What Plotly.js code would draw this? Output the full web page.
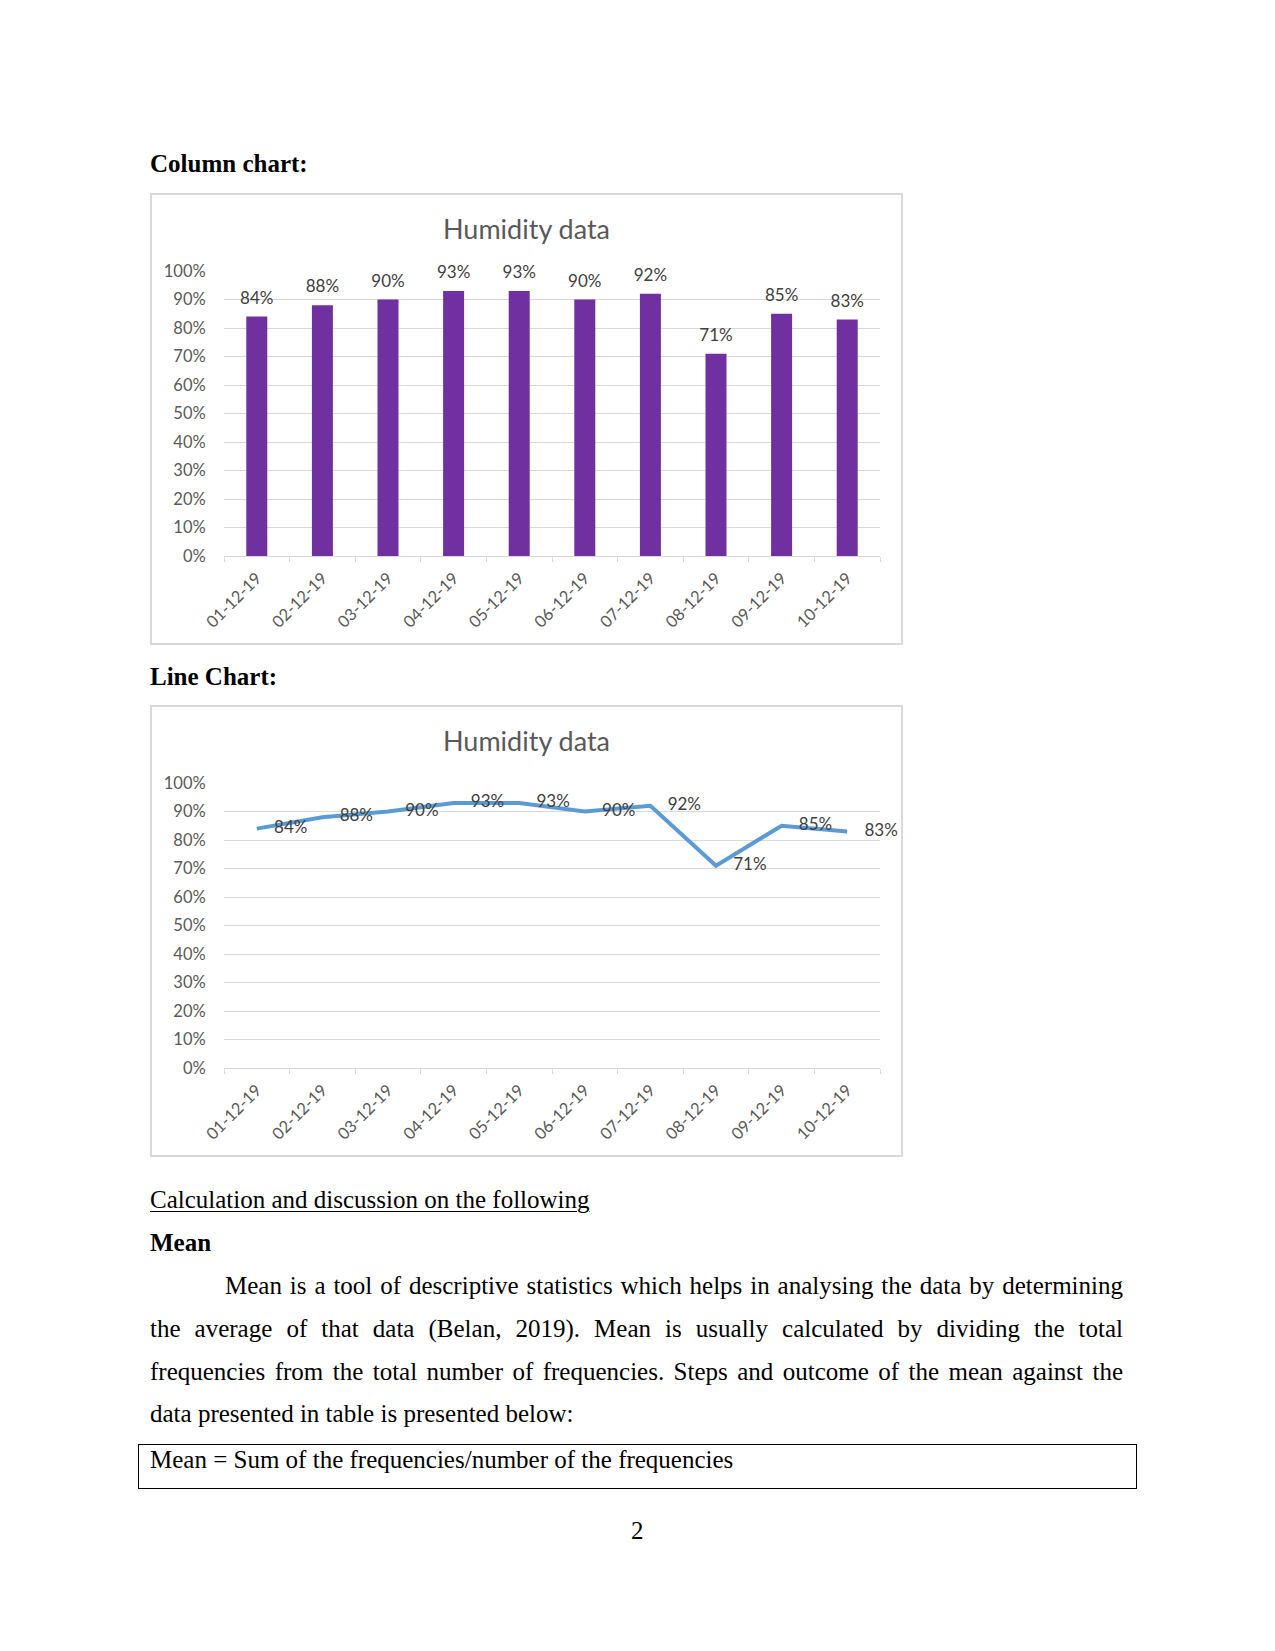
<!DOCTYPE html>
<html>
<head>
<meta charset="utf-8">
<script src="https://cdn.plot.ly/plotly-3.0.1.min.js"></script>
<style>
  body { margin: 0; background: #fff; width: 1275px; height: 1651px; position: relative; font-family: "Liberation Serif", "Times New Roman", serif; font-size: 25px; color: #000; }
  .t { position: absolute; left: 150px; line-height: 25px; white-space: nowrap; }
  .b { font-weight: bold; }
  .u { text-decoration: underline; text-underline-offset: 3px; text-decoration-thickness: 1px; }
  .jl { position: absolute; left: 150px; width: 973px; line-height: 25px; text-align: justify; text-align-last: justify; white-space: nowrap; }
  .box { position: absolute; border: 2px solid #d9d9d9; box-sizing: border-box; width: 753px; height: 452px; left: 150px; }
  .box > div { position: absolute; left: 0; top: 0; }
  .formula { position: absolute; left: 138px; top: 1444px; width: 999px; height: 45px; border: 1.5px solid #000; box-sizing: border-box; }
</style>
</head>
<body>
<div class="t b" style="top:151px">Column chart:</div>
<div class="box" style="top:193px"><div id="columnChart"></div></div>

<div class="t b" style="top:664px">Line Chart:</div>
<div class="box" style="top:705px"><div id="lineChart"></div></div>

<div class="t u" style="top:1187px">Calculation and discussion on the following</div>
<div class="t b" style="top:1230px">Mean</div>
<div class="jl" style="top:1273px; left:225px; width:898px">Mean is a tool of descriptive statistics which helps in analysing the data by determining</div>
<div class="jl" style="top:1316px">the average of that data (Belan, 2019). Mean is usually calculated by dividing the total</div>
<div class="jl" style="top:1359px">frequencies from the total number of frequencies. Steps and outcome of the mean against the</div>
<div class="t" style="top:1401px">data presented in table is presented below:</div>
<div class="formula"></div>
<div class="t" style="top:1447px">Mean = Sum of the frequencies/number of the frequencies</div>
<div class="t" style="top:1518px; left:631px">2</div>

<script>
// humidity readings, December 2019
const dates = ['01-12-19', '02-12-19', '03-12-19', '04-12-19', '05-12-19',
               '06-12-19', '07-12-19', '08-12-19', '09-12-19', '10-12-19'];
const humidity = [0.84, 0.88, 0.90, 0.93, 0.93, 0.90, 0.92, 0.71, 0.85, 0.83];
const chartTitle = 'Humidity data';

const font = 'Lato, "Open Sans", sans-serif';
const grey = '#595959';
const labelFont = { family: font, size: 17, color: '#404040' };

function baseLayout() {
    return {
        width: 749,
        height: 448,
        margin: { l: 72, r: 21, t: 76, b: 87 },
        paper_bgcolor: '#fff',
        plot_bgcolor: '#fff',
        showlegend: false,
        font: { family: font, color: grey, size: 16.5 },
        title: {
            text: chartTitle,
            font: { family: font, size: 27, color: grey },
            x: 0.5, xanchor: 'center',
            yref: 'container', y: 1 - 35 / 448, yanchor: 'middle'
        },
        xaxis: {
            type: 'category',
            range: [-0.5, dates.length - 0.5],
            tickangle: -45,
            showgrid: false,
            showline: true,
            linecolor: '#d9d9d9',
            linewidth: 1,
            ticks: 'outside',
            tickson: 'boundaries',
            ticklen: 5,
            tickcolor: '#d9d9d9',
            ticklabelstandoff: 5,
            tickfont: { family: font, size: 16.5, color: grey }
        },
        yaxis: {
            range: [0, 1],
            dtick: 0.1,
            tickformat: '.0%',
            showgrid: true,
            gridcolor: '#d9d9d9',
            gridwidth: 1,
            zeroline: false,
            showline: false,
            ticks: 'outside',
            ticklen: 14,
            tickcolor: 'rgba(0,0,0,0)',
            tickfont: { family: font, size: 16.5, color: grey }
        }
    };
}

const config = { displayModeBar: false, staticPlot: true };

// column chart: bars plus value labels above them
Plotly.newPlot('columnChart', [{
    type: 'bar',
    x: dates,
    y: humidity,
    marker: { color: '#7030A0' },
    hoverinfo: 'skip'
}, {
    type: 'scatter',
    mode: 'markers+text',
    x: dates,
    y: humidity,
    marker: { size: 12, opacity: 0 },
    texttemplate: '%{y:.0%}',
    textposition: 'top center',
    cliponaxis: false,
    textfont: labelFont
}], Object.assign(baseLayout(), { bargap: 0.68 }), config);

// line chart
Plotly.newPlot('lineChart', [{
    type: 'scatter',
    mode: 'lines+markers+text',
    x: dates,
    y: humidity,
    line: { color: '#5B9BD5', width: 4 },
    marker: { size: 26, opacity: 0, color: '#5B9BD5' },
    texttemplate: '%{y:.0%}',
    textposition: 'middle right',
    cliponaxis: false,
    textfont: labelFont
}], baseLayout(), config);
</script>
</body>
</html>
